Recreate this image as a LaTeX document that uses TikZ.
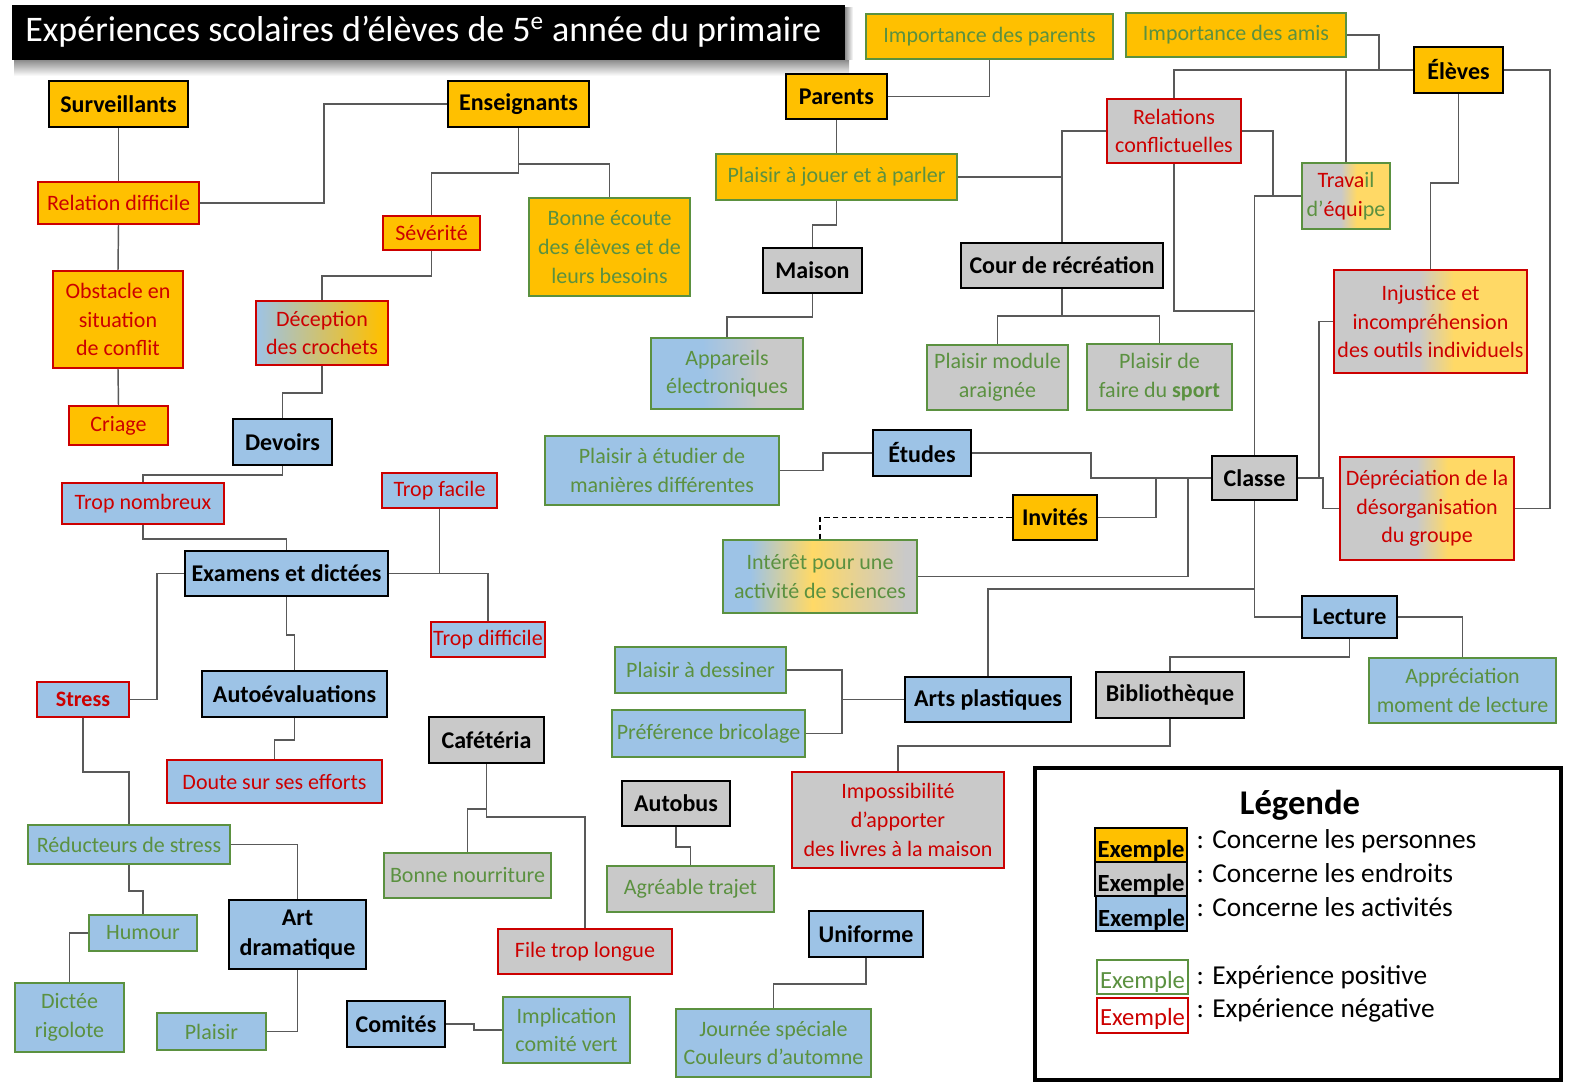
\documentclass[tikz,border=0pt]{standalone}
\usepackage{fontspec}
\setmainfont{Carlito}
\definecolor{corange}{HTML}{FFC000}
\definecolor{cgray}{HTML}{C9C9C9}
\definecolor{cblue}{HTML}{9DC3E6}
\definecolor{cyel}{HTML}{FFD966}
\definecolor{cgreen}{HTML}{5B9140}
\definecolor{cred}{HTML}{CC0000}
\definecolor{cline}{HTML}{595959}
\pgfdeclarehorizontalshading{shdecep}{100bp}{color(0bp)=(cblue); color(25bp)=(cblue); color(73bp)=(corange); color(100bp)=(corange)}
\pgfdeclarehorizontalshading{shapp}{100bp}{color(0bp)=(cblue); color(42bp)=(cblue); color(61bp)=(cgray); color(100bp)=(cgray)}
\pgfdeclarehorizontalshading{shint}{100bp}{color(0bp)=(cblue); color(32bp)=(cblue); color(48bp)=(cyel); color(72bp)=(cgray); color(100bp)=(cgray)}
\pgfdeclarehorizontalshading{shgy}{100bp}{color(0bp)=(cgray); color(47bp)=(cgray); color(56bp)=(cyel); color(100bp)=(cyel)}
\begin{document}
\begin{tikzpicture}[x=0.75pt,y=-0.75pt,
  box/.style={rectangle, inner sep=0pt, align=center, line width=1.3pt, font=\fontsize{16.5}{21.5}\selectfont},
  cat/.style={box, draw=black, line width=1.8pt, font=\fontsize{18}{23}\selectfont\bfseries},
  pers/.style={cat, fill=corange},
  lieu/.style={cat, fill=cgray},
  activ/.style={cat, fill=cblue},
  posx/.style={box, draw=cgreen, text=cgreen},
  negx/.style={box, draw=cred, text=cred},
  fo/.style={fill=corange}, fg/.style={fill=cgray}, fb/.style={fill=cblue},
  sz/.style 2 args={minimum width=#1*0.75pt, minimum height=#2*0.75pt},
  conn/.style={draw=cline, line width=1.1pt},
  dconn/.style={draw=black, line width=1.1pt, dash pattern=on 4pt off 2.5pt},
  lgtext/.style={anchor=base west, font=\fontsize{20.5}{24}\selectfont},
  lgsw/.style={rectangle, inner sep=0pt, line width=1.2pt},
  lgex/.style={anchor=base, inner sep=0pt, font=\fontsize{18.5}{22}\selectfont}
]
\useasboundingbox (0,0) rectangle (1574,1087);
\fill[white] (0,0) rectangle (1574,1087);

% title
\shade[top color=black!45, bottom color=white] (14,60) rectangle (849,76);
\shade[left color=black!45, right color=white] (845,8) rectangle (853,60);
\fill[black] (12,5) rectangle (845,60);
\node[anchor=west, text=white, inner sep=0pt, font=\fontsize{27}{31}\selectfont] (title) at (25,32) {Expériences scolaires d’élèves de 5\textsuperscript{e} année du primaire};

% left part
\node[pers, sz={139}{46}] (surv) at (118.5,104) {Surveillants};
\node[pers, sz={141}{46}] (ens) at (518.5,104) {Enseignants};
\node[negx, fo, sz={161}{42}] (reldif) at (118.5,203) {Relation difficile};
\node[negx, fo, sz={97}{34}] (sev) at (431.5,233) {Sévérité};
\node[negx, fo, sz={130}{97}] (obst) at (118,319.5) {Obstacle en\\situation\\de conflit};
\node[negx, shade, shading=shdecep, sz={132}{64}] (decep) at (322,333) {Déception\\des crochets};
\node[negx, fo, sz={99}{39}] (criage) at (118.5,425.5) {Criage};
\node[posx, fo, sz={161}{98}] (bonne) at (609.5,247) {Bonne écoute\\des élèves et de\\leurs besoins};
\node[activ, sz={99}{46}] (devoirs) at (282.5,442) {Devoirs};
\node[negx, fb, sz={162}{41}] (nombreux) at (143,503.5) {Trop nombreux};
\node[negx, fb, sz={115}{35}] (facile) at (439.5,490.5) {Trop facile};
\node[activ, sz={203}{45}] (exam) at (286.5,573.5) {Examens et dictées};
\node[negx, fb, sz={114}{35}] (difficile) at (488,639.5) {Trop difficile};
\node[negx, fb, sz={92}{35}, font=\fontsize{16.5}{21.5}\selectfont\bfseries] (stress) at (83,699.5) {Stress};
\node[activ, sz={185}{46}] (autoeval) at (294.5,694) {Autoévaluations};
\node[negx, fb, sz={215}{43}] (doute) at (274.5,781.5) {Doute sur ses efforts};
\node[posx, fb, sz={202}{39}] (reduc) at (129,844.5) {Réducteurs de stress};
\node[posx, fb, sz={108}{36}] (humour) at (143,933) {Humour};
\node[activ, sz={137}{69}] (artdram) at (297.5,934.5) {Art\\dramatique};
\node[posx, fb, sz={109}{69}] (dictee) at (69.5,1017.5) {Dictée\\rigolote};
\node[posx, fb, sz={109}{37}] (plaisir) at (211.5,1031.5) {Plaisir};
\node[activ, sz={98}{46}] (comites) at (396,1024) {Comités};
\node[lieu, sz={115}{46}] (cafe) at (486.5,740) {Cafétéria};
\node[posx, fg, sz={167}{45}] (nourr) at (467.5,875.5) {Bonne nourriture};
\node[negx, fg, sz={174}{45}] (file) at (585,951.5) {File trop longue};
\node[posx, fb, sz={127}{66}] (implic) at (566.5,1030) {Implication\\comité vert};
\node[lieu, sz={108}{45}] (autobus) at (676,803.5) {Autobus};
\node[posx, fg, sz={167}{46}] (trajet) at (690.5,889) {Agréable trajet};
\node[negx, fg, sz={212}{96}] (imposs) at (898,820) {Impossibilité\\d’apporter\\des livres à la maison};
\node[activ, sz={114}{46}] (uniforme) at (866,934) {Uniforme};
\node[posx, fb, sz={195}{68}] (journee) at (773.5,1043) {Journée spéciale\\Couleurs d’automne};
\node[posx, fb, sz={171}{46}] (dessin) at (700.5,670) {Plaisir à dessiner};
\node[posx, fb, sz={193}{47}] (brico) at (708.5,733.5) {Préférence bricolage};
\node[activ, sz={166}{45}] (arts) at (988,699.5) {Arts plastiques};
\node[posx, fb, sz={234}{69}] (etudier) at (662,470.5) {Plaisir à étudier de\\manières différentes};
\node[activ, sz={98}{46}] (etudes) at (922,453) {Études};
\node[pers, sz={84}{45}] (invites) at (1055,517.5) {Invités};
\node[posx, shade, shading=shint, sz={194}{73}] (interet) at (820,576.5) {Intérêt pour une\\activité de sciences};
\node[posx, shade, shading=shapp, sz={152}{71}] (appareils) at (727,373.5) {Appareils\\électroniques};
\node[lieu, sz={99}{45}] (maison) at (812.5,270.5) {Maison};
\node[pers, sz={101}{45}] (parents) at (836.5,96.5) {Parents};
\node[posx, fo, sz={241}{46}] (jouer) at (836.5,177) {Plaisir à jouer et à parler};
\node[posx, fo, sz={247}{45}] (impparents) at (989.5,36.5) {Importance des parents};
\node[posx, fo, sz={220}{44}] (amis) at (1236,35) {Importance des amis};
\node[pers, sz={89}{46}] (eleves) at (1458.5,70) {Élèves};
\node[negx, fg, sz={134}{64}] (relconf) at (1174,131) {Relations\\conflictuelles};
\node[posx, shade, shading=shgy, sz={88}{66}] (travail) at (1346,196) {\textcolor{cred}{Trava}il\\d’\textcolor{cred}{équi}pe};
\node[lieu, sz={202}{45}] (cour) at (1062,265.5) {Cour de récréation};
\node[posx, fg, sz={141}{65}] (module) at (997.5,377.5) {Plaisir module\\araignée};
\node[posx, fg, sz={145}{66}] (sport) at (1159.5,377) {Plaisir de\\faire du \textbf{sport}};
\node[negx, shade, shading=shgy, sz={193}{103}] (injust) at (1430.5,321.5) {Injustice et\\incompréhension\\des outils individuels};
\node[lieu, sz={85}{44}] (classe) at (1254.5,478) {Classe};
\node[negx, shade, shading=shgy, sz={174}{103}] (deprec) at (1427,508.5) {Dépréciation de la\\désorganisation\\du groupe};
\node[activ, sz={95}{42}] (lecture) at (1349.5,617) {Lecture};
\node[lieu, sz={148}{46}] (biblio) at (1170,695) {Bibliothèque};
\node[posx, fb, sz={187}{65}] (apprec) at (1462.5,690.5) {Appréciation\\moment de lecture};

% connectors
\draw[conn] (surv.south) -- (reldif.north);
\draw[conn] (reldif.south) -- (obst.north);
\draw[conn] (obst.south) -- (criage.north);
\draw[conn] (reldif.east) -- ++(124,0) |- (ens.west);
\draw[conn] (ens.south) -- ++(0,36) -| (bonne.north);
\draw[conn] (ens.south) -- ++(0,45) -| (sev.north);
\draw[conn] (sev.south) -- ++(0,25) -| (decep.north);
\draw[conn] (decep.south) -- ++(0,27) -| (devoirs.north);
\draw[conn] (devoirs.south) -- ++(0,9) -| (nombreux.north);
\draw[conn] (nombreux.south) -- ++(0,14) -| (exam.north);
\draw[conn] (exam.east) -| (facile.south);
\draw[conn] (exam.east) -| (difficile.north);
\draw[conn] (exam.west) -- ++(-27,0) |- (stress.east);
\draw[conn] (exam.south) -- ++(0,38) -| (autoeval.north);
\draw[conn] (autoeval.south) -- ++(0,22) -| (doute.north);
\draw[conn] (stress.south) -- ++(0,54) -| (reduc.north);
\draw[conn] (reduc.east) -| (artdram.north);
\draw[conn] (reduc.south) -- ++(0,26) -| (humour.north);
\draw[conn] (humour.west) -| (dictee.north);
\draw[conn] (artdram.south) |- (plaisir.east);
\draw[conn] (comites.east) -- ++(28,0) |- (implic.west);
\draw[conn] (cafe.south) -- ++(0,45) -| (nourr.north);
\draw[conn] (cafe.south) -- ++(0,53) -| (file.north);
\draw[conn] (autobus.south) -- ++(0,20) -| (trajet.north);
\draw[conn] (uniforme.south) -- ++(0,26) -| (journee.north);
\draw[conn] (biblio.south) -- ++(0,27) -| (imposs.north);
\draw[conn] (lecture.south) -- ++(0,18) -| (biblio.north);
\draw[conn] (lecture.east) -| (apprec.north);
\draw[conn] (classe.south) |- (lecture.west);
\draw[conn] (classe.south) -- ++(0,88) -| (arts.north);
\draw[conn] (arts.west) -- ++(-62,0) |- (dessin.east);
\draw[conn] (arts.west) -- ++(-62,0) |- (brico.east);
\draw[conn] (etudes.west) -- ++(-49,0) |- (etudier.east);
\draw[conn] (etudes.east) -- ++(119,0) |- (classe.west);
\draw[conn] (invites.east) -- ++(58,0) |- (classe.west);
\draw[conn] (interet.east) -- ++(270,0) |- (classe.west);
\draw[dconn] (invites.west) -| (interet.north);
\draw[conn] (classe.north) |- (travail.west);
\draw[conn] (relconf.east) -- ++(31,0) |- (travail.west);
\draw[conn] (relconf.south) -- ++(0,147) -| (classe.north);
\draw[conn] (relconf.west) -| (cour.north);
\draw[conn] (jouer.east) -| (cour.north);
\draw[conn] (cour.south) -- ++(0,27) -| (module.north);
\draw[conn] (cour.south) -- ++(0,27) -| (sport.north);
\draw[conn] (eleves.west) -- ++(-34,0) |- (amis.east);
\draw[conn] (eleves.west) -| (relconf.north);
\draw[conn] (eleves.west) -| (travail.north);
\draw[conn] (eleves.south) -- ++(0,89) -| (injust.north);
\draw[conn] (eleves.east) -- ++(46,0) |- (deprec.east);
\draw[conn] (classe.east) -- ++(21,0) |- (injust.west);
\draw[conn] (classe.east) -- ++(25,0) |- (deprec.west);
\draw[conn] (parents.south) -- (jouer.north);
\draw[conn] (parents.east) -| (impparents.south);
\draw[conn] (jouer.south) -- ++(0,24) -| (maison.north);
\draw[conn] (maison.south) -- ++(0,23) -| (appareils.north);

% legend
\draw[line width=3.6pt] (1035,768) rectangle (1561,1080);
\node[anchor=base, inner sep=0pt, font=\fontsize{26}{30}\selectfont\bfseries] (lgtitle) at (1300,814) {Légende};
\node[lgsw, draw=black, fill=corange, sz={92}{34}] (lga) at (1141,845) {};
\node[lgsw, draw=black, fill=cgray, sz={92}{34}] (lgb) at (1141,879) {};
\node[lgsw, draw=black, fill=cblue, sz={91}{35}] (lgc) at (1141.5,913.5) {};
\node[lgsw, draw=cgreen, fill=white, sz={91}{34}] (lgd) at (1142.5,977) {};
\node[lgsw, draw=cred, fill=white, sz={91}{35}] (lge) at (1142.5,1015.5) {};
\node[lgex, font=\fontsize{18.5}{22}\selectfont\bfseries] (lgat) at (1141,857) {Exemple};
\node[lgex, font=\fontsize{18.5}{22}\selectfont\bfseries] (lgbt) at (1141,891) {Exemple};
\node[lgex, font=\fontsize{18.5}{22}\selectfont\bfseries] (lgct) at (1141.5,926) {Exemple};
\node[lgex, text=cgreen] (lgdt) at (1142.5,988) {Exemple};
\node[lgex, text=cred] (lget) at (1142.5,1025) {Exemple};
\node[lgtext] (lga2) at (1192,848) {: Concerne les personnes};
\node[lgtext] (lgb2) at (1192,882) {: Concerne les endroits};
\node[lgtext] (lgc2) at (1192,916) {: Concerne les activités};
\node[lgtext] (lgd2) at (1192,984) {: Expérience positive};
\node[lgtext] (lge2) at (1192,1017) {: Expérience négative};
\end{tikzpicture}
\end{document}
